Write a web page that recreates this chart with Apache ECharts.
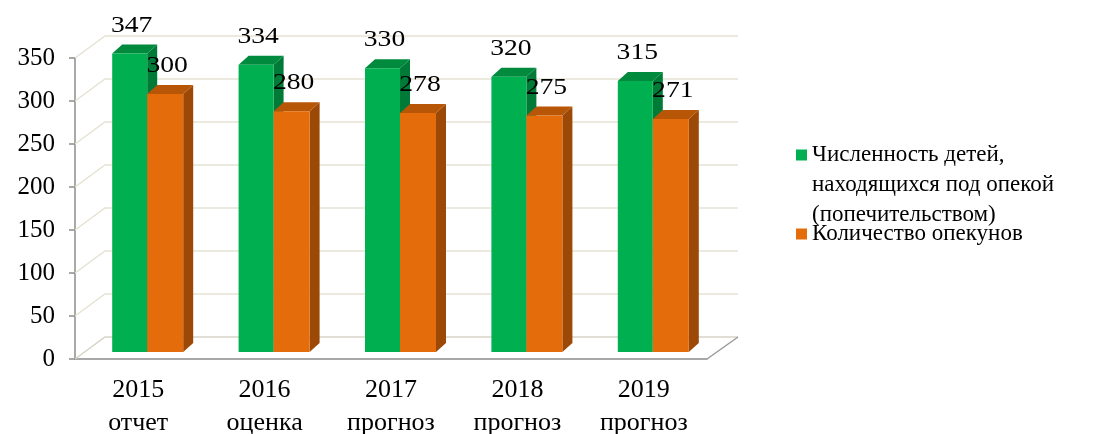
<!DOCTYPE html>
<html>
<head>
<meta charset="utf-8">
<script src="https://cdn.jsdelivr.net/npm/echarts@6/dist/echarts.min.js"></script>
<style>
  html, body { margin: 0; padding: 0; background: #fff; }
  #chart { width: 1103px; height: 434px; }
</style>
</head>
<body>
<div id="chart"></div>
<script>
// данные
const categories = ["2015\nотчет", "2016\nоценка", "2017\nпрогноз", "2018\nпрогноз", "2019\nпрогноз"];
const childrenName = "Численность детей,\nнаходящихся под опекой\n(попечительством)";
const guardiansName = "Количество опекунов";
const childrenValues = [347, 334, 330, 320, 315];
const guardiansValues = [300, 280, 278, 275, 271];
const yTicks = [0, 50, 100, 150, 200, 250, 300, 350];

const FONT = "'Liberation Serif', 'Times New Roman', serif";
// глубина "3D"
const WALL_DX = 30, WALL_DY = 22;
const BAR_DX = 10, BAR_DY = 9;
const BAR_SHIFT_Y = -7;

// 3D столбик
const barRenderer = (offset, width, colors) => (params, api) => {
  const base = api.coord([api.value(0), 0]);
  const top = api.coord([api.value(0), api.value(1)]);
  const x0 = base[0] + offset;
  const x1 = x0 + width;
  const yb = base[1] + BAR_SHIFT_Y;
  const yt = top[1] + BAR_SHIFT_Y;
  return {
    type: "group",
    children: [
      {
        type: "polygon",
        shape: { points: [[x1, yt], [x1 + BAR_DX, yt - BAR_DY], [x1 + BAR_DX, yb - BAR_DY], [x1, yb]] },
        style: { fill: colors.side },
      },
      {
        type: "polygon",
        shape: { points: [[x0, yt], [x0 + BAR_DX, yt - BAR_DY], [x1 + BAR_DX, yt - BAR_DY], [x1, yt]] },
        style: { fill: colors.top },
      },
      {
        type: "rect",
        shape: { x: x0, y: yt, width: width, height: yb - yt },
        style: { fill: colors.front },
      },
      {
        type: "text",
        x: (x0 + x1) / 2 + 2,
        y: yt - 28,
        scaleX: 1.15,
        style: {
          text: String(api.value(1)),
          font: "24px " + FONT,
          fill: "#000",
          align: "center",
          verticalAlign: "middle",
        },
      },
    ],
  };
};

// линии сетки на стенке и пол
const wallRenderer = (params, api) => {
  const cs = params.coordSys;
  const p = api.coord([0, api.value(1)]);
  const left = cs.x;
  const right = cs.x + cs.width;
  const y = p[1];
  const isFloor = api.value(1) === 0;
  const children = [
    {
      type: "polyline",
      shape: { points: [[left, y], [left + WALL_DX, y - WALL_DY], [right + WALL_DX + 1, y - WALL_DY]] },
      style: { stroke: isFloor ? "#d6d3c8" : "#e6e2d3", lineWidth: 1.5, fill: null },
    },
  ];
  if (isFloor) {
    children.push({
      type: "line",
      shape: { x1: right, y1: y, x2: right + WALL_DX + 1, y2: y - WALL_DY },
      style: { stroke: "#9a9a9a", lineWidth: 1.5 },
    });
  }
  return { type: "group", children: children };
};

const chart = echarts.init(document.getElementById("chart"));
chart.setOption({
  animation: false,
  grid: { left: 75, right: 396, top: 58, bottom: 75, outerBoundsMode: "none" },
  legend: [
    {
      data: [childrenName],
      left: 791,
      top: 75,
      orient: "vertical",
      icon: "rect",
      itemWidth: 11,
      itemHeight: 11,
      selectedMode: false,
      // две пустые строки сверху, чтобы значок стоял у первой строки
      formatter: (name) => "\n\n" + name,
      textStyle: { fontFamily: FONT, fontSize: 23, color: "#000", lineHeight: 30 },
    },
    {
      data: [guardiansName],
      left: 791,
      top: 214,
      icon: "rect",
      itemWidth: 11,
      itemHeight: 11,
      selectedMode: false,
      textStyle: { fontFamily: FONT, fontSize: 23, color: "#000", lineHeight: 30 },
    },
  ],
  xAxis: {
    type: "category",
    data: categories,
    axisLine: { lineStyle: { color: "#8c8c8c", width: 1.5 } },
    axisTick: { length: 7, lineStyle: { color: "#8c8c8c", width: 1.5 } },
    axisLabel: { fontFamily: FONT, fontSize: 26, color: "#000", lineHeight: 33, margin: 15 },
  },
  yAxis: {
    type: "value",
    min: 0,
    max: 350,
    interval: 50,
    axisLine: { show: true, lineStyle: { color: "#8c8c8c", width: 1.5 } },
    axisTick: { show: true, length: 6, lineStyle: { color: "#8c8c8c", width: 1.5 } },
    axisLabel: { fontFamily: FONT, fontSize: 25, color: "#000", margin: 20 },
    splitLine: { show: false },
  },
  series: [
    {
      name: "wall",
      type: "custom",
      silent: true,
      clip: false,
      z: 1,
      renderItem: wallRenderer,
      data: yTicks.map((v) => [0, v]),
    },
    {
      name: childrenName,
      type: "custom",
      clip: false,
      z: 3,
      itemStyle: { color: "#00b050" },
      renderItem: barRenderer(-26, 35, { front: "#00b050", top: "#008a3e", side: "#007a37" }),
      data: childrenValues.map((v, i) => [i, v]),
    },
    {
      name: guardiansName,
      type: "custom",
      clip: false,
      z: 4,
      itemStyle: { color: "#e46c0a" },
      renderItem: barRenderer(9, 36, { front: "#e46c0a", top: "#b85608", side: "#9c4806" }),
      data: guardiansValues.map((v, i) => [i, v]),
    },
  ],
});
</script>
</body>
</html>
